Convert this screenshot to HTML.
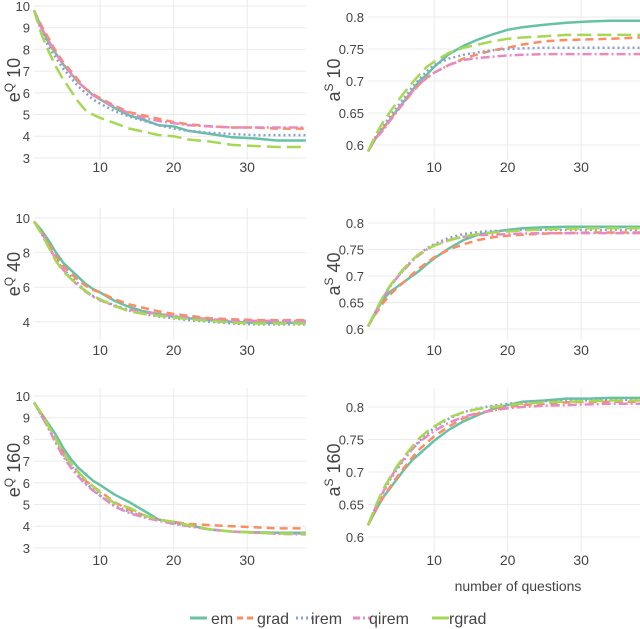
<!DOCTYPE html>
<html><head><meta charset="utf-8">
<style>
body{margin:0;background:#fff;}
svg{display:block;font-family:"Liberation Sans","DejaVu Sans",sans-serif;}
</style></head>
<body>
<svg id="chart" width="640" height="629" viewBox="0 0 640 629" xmlns="http://www.w3.org/2000/svg"></svg>
<script>
const xs = [1,2,3,4,5,6,7,8,9,10,12,14,16,18,20,22,25,28,31,34,38];
const seriesNames = ["em","grad","irem","qirem","rgrad"];
const e10_em=[9.8,9,8.3,7.8,7.3,6.9,6.5,6.2,5.9,5.7,5.3,4.95,4.75,4.5,4.45,4.25,4.1,3.95,3.9,3.8,3.8];
const e10_grad=[9.8,9.1,8.5,7.9,7.4,7.0,6.6,6.2,5.95,5.75,5.4,5.1,4.95,4.8,4.65,4.55,4.45,4.4,4.4,4.35,4.35];
const e10_irem=[9.8,8.8,8.1,7.6,7.1,6.7,6.3,6.0,5.7,5.5,5.15,4.9,4.7,4.5,4.35,4.25,4.15,4.1,4.05,4.05,4.05];
const e10_qirem=[9.8,9.0,8.4,7.8,7.3,6.9,6.5,6.2,5.9,5.7,5.35,5.05,4.85,4.7,4.6,4.5,4.45,4.4,4.4,4.4,4.4];
const e10_rgrad=[9.8,8.7,7.9,7.2,6.6,6.1,5.6,5.2,5.0,4.85,4.6,4.35,4.2,4.05,4.0,3.85,3.75,3.6,3.55,3.5,3.5];
const a10_em=[0.59,0.61,0.625,0.64,0.655,0.67,0.685,0.7,0.71,0.722,0.742,0.755,0.765,0.773,0.78,0.784,0.788,0.791,0.793,0.794,0.794];
const a10_grad=[0.59,0.61,0.625,0.64,0.655,0.668,0.682,0.695,0.705,0.713,0.725,0.735,0.742,0.748,0.752,0.757,0.762,0.764,0.765,0.766,0.768];
const a10_irem=[0.59,0.612,0.628,0.645,0.66,0.675,0.69,0.703,0.715,0.725,0.735,0.741,0.745,0.748,0.75,0.751,0.752,0.752,0.752,0.752,0.752];
const a10_qirem=[0.59,0.61,0.622,0.638,0.653,0.668,0.683,0.695,0.705,0.713,0.725,0.733,0.736,0.738,0.74,0.741,0.742,0.742,0.742,0.742,0.742];
const a10_rgrad=[0.59,0.615,0.635,0.652,0.668,0.683,0.697,0.71,0.722,0.73,0.744,0.752,0.757,0.762,0.766,0.768,0.77,0.772,0.772,0.772,0.772];
const e40_em=[9.8,9.3,8.7,8.0,7.4,7.0,6.6,6.2,5.9,5.7,5.2,4.85,4.6,4.45,4.3,4.2,4.1,4.0,3.95,3.95,3.95];
const e40_grad=[9.8,9.2,8.5,7.8,7.2,6.8,6.4,6.1,5.85,5.7,5.3,5.0,4.8,4.6,4.45,4.35,4.2,4.15,4.1,4.1,4.1];
const e40_irem=[9.8,9.1,8.3,7.6,7.0,6.6,6.2,5.8,5.5,5.3,4.95,4.65,4.45,4.3,4.2,4.1,4.0,3.9,3.85,3.85,3.85];
const e40_qirem=[9.8,9.2,8.4,7.6,7.0,6.5,6.1,5.75,5.45,5.25,4.9,4.7,4.55,4.45,4.35,4.25,4.15,4.05,4.05,4.05,4.05];
const e40_rgrad=[9.8,9.1,8.3,7.5,6.9,6.5,6.1,5.8,5.5,5.3,4.9,4.6,4.45,4.35,4.25,4.15,4.05,3.95,3.9,3.9,3.9];
const a40_em=[0.605,0.63,0.655,0.67,0.68,0.69,0.7,0.71,0.722,0.733,0.752,0.768,0.778,0.783,0.787,0.79,0.792,0.793,0.793,0.793,0.793];
const a40_grad=[0.605,0.628,0.648,0.665,0.678,0.69,0.703,0.715,0.725,0.735,0.75,0.76,0.768,0.773,0.776,0.778,0.78,0.781,0.782,0.782,0.782];
const a40_irem=[0.605,0.632,0.658,0.68,0.698,0.715,0.73,0.742,0.752,0.76,0.772,0.779,0.783,0.785,0.786,0.787,0.787,0.787,0.787,0.787,0.787];
const a40_qirem=[0.605,0.632,0.658,0.68,0.698,0.713,0.728,0.74,0.75,0.758,0.768,0.774,0.777,0.778,0.779,0.78,0.781,0.781,0.781,0.781,0.781];
const a40_rgrad=[0.605,0.633,0.66,0.682,0.7,0.716,0.73,0.742,0.75,0.757,0.767,0.775,0.779,0.782,0.784,0.786,0.788,0.789,0.79,0.79,0.79];
const e160_em=[9.7,9.2,8.7,8.2,7.6,7.1,6.7,6.4,6.1,5.9,5.45,5.1,4.7,4.3,4.2,4.05,3.85,3.75,3.72,3.7,3.7];
const e160_grad=[9.7,9.2,8.6,8.0,7.4,6.9,6.5,6.1,5.85,5.6,5.1,4.75,4.5,4.3,4.2,4.1,4.05,4.0,3.95,3.9,3.9];
const e160_irem=[9.7,9.1,8.5,7.9,7.3,6.8,6.4,6.0,5.7,5.4,4.95,4.65,4.45,4.3,4.15,4.0,3.85,3.75,3.7,3.68,3.65];
const e160_qirem=[9.7,9.1,8.5,7.8,7.2,6.7,6.3,5.95,5.65,5.4,4.9,4.6,4.4,4.25,4.1,4.0,3.85,3.75,3.7,3.65,3.62];
const e160_rgrad=[9.7,9.2,8.6,8.0,7.4,6.9,6.5,6.15,5.85,5.55,5.05,4.85,4.5,4.3,4.2,4.05,3.85,3.75,3.7,3.67,3.65];
const a160_em=[0.618,0.64,0.66,0.675,0.69,0.705,0.718,0.728,0.738,0.748,0.765,0.778,0.788,0.797,0.803,0.808,0.81,0.813,0.813,0.814,0.814];
const a160_grad=[0.618,0.64,0.66,0.677,0.693,0.708,0.722,0.735,0.745,0.755,0.77,0.783,0.79,0.795,0.8,0.803,0.805,0.807,0.808,0.808,0.808];
const a160_irem=[0.618,0.645,0.667,0.688,0.705,0.72,0.735,0.748,0.758,0.768,0.782,0.792,0.798,0.802,0.805,0.807,0.809,0.81,0.81,0.811,0.811];
const a160_qirem=[0.618,0.645,0.668,0.69,0.708,0.722,0.735,0.746,0.755,0.763,0.776,0.785,0.791,0.795,0.798,0.8,0.802,0.803,0.804,0.805,0.805];
const a160_rgrad=[0.618,0.647,0.672,0.692,0.71,0.725,0.739,0.752,0.762,0.77,0.784,0.792,0.797,0.8,0.803,0.805,0.807,0.808,0.809,0.81,0.81];
const xTicks=[10,20,30];
const eTicksFull=[3,4,5,6,7,8,9,10];
const eTicks40=[4,6,8,10];
const aTicks=[0.6,0.65,0.7,0.75,0.8];
const aTickLabels=["0.6","0.65","0.7","0.75","0.8"];

const NS="http://www.w3.org/2000/svg";
const svg=document.getElementById('chart');
const colors={em:"#66c2a5",grad:"#fc8d62",irem:"#8da0cb",qirem:"#e78ac3",rgrad:"#a6d854"};
const dashes={em:"",grad:"8,5",irem:"2,3",qirem:"9,3,2,3",rgrad:"14,6"};
function mk(tag,attrs,parent){const e=document.createElementNS(NS,tag);for(const k in attrs)e.setAttribute(k,attrs[k]);(parent||svg).appendChild(e);return e;}

const panels=[
 {name:"e10",x0:34,top:0,bot:160,yAt:10,yPx:6,scale:21.7,ticks:eTicksFull,labels:null,title:"e",sup:"Q",num:"10",tx:14,data:[e10_em,e10_grad,e10_irem,e10_qirem,e10_rgrad],xlabY:172},
 {name:"a10",x0:368,top:0,bot:160,yAt:0.8,yPx:17,scale:640,ticks:aTicks,labels:aTickLabels,title:"a",sup:"S",num:"10",tx:334,data:[a10_em,a10_grad,a10_irem,a10_qirem,a10_rgrad],xlabY:172},
 {name:"e40",x0:34,top:208,bot:340,yAt:10,yPx:218,scale:17.3,ticks:eTicks40,labels:null,title:"e",sup:"Q",num:"40",tx:14,data:[e40_em,e40_grad,e40_irem,e40_qirem,e40_rgrad],xlabY:355},
 {name:"a40",x0:368,top:208,bot:340,yAt:0.8,yPx:223,scale:530,ticks:aTicks,labels:aTickLabels,title:"a",sup:"S",num:"40",tx:334,data:[a40_em,a40_grad,a40_irem,a40_qirem,a40_rgrad],xlabY:355},
 {name:"e160",x0:34,top:388,bot:552,yAt:10,yPx:396,scale:21.7,ticks:eTicksFull,labels:null,title:"e",sup:"Q",num:"160",tx:14,data:[e160_em,e160_grad,e160_irem,e160_qirem,e160_rgrad],xlabY:565},
 {name:"a160",x0:368,top:388,bot:552,yAt:0.8,yPx:407,scale:650,ticks:aTicks,labels:aTickLabels,title:"a",sup:"S",num:"160",tx:334,data:[a160_em,a160_grad,a160_irem,a160_qirem,a160_rgrad],xlabY:565}
];
const PX=7.35;
panels.forEach(p=>{
 const g=mk('g',{});
 
 
 const xS=v=>p.x0+(v-1)*PX;
 const yS=v=>p.yPx+(p.yAt-v)*p.scale;
 const xEnd=xS(38);
 p.ticks.forEach((t,i)=>{
  const y=yS(t);
  const l=mk('line',{x1:p.x0,x2:xEnd,y1:y,y2:y,stroke:"#ebebeb","stroke-width":1},g);
  
  
  const tx=mk('text',{x:p.x0-4,y:y+5,"text-anchor":"end","font-size":13,fill:"#444"},g);
  
  
  tx.textContent=p.labels?p.labels[i]:String(t);
 });
 xTicks.forEach(t=>{
  const x=xS(t);
  const l=mk('line',{x1:x,x2:x,y1:p.top,y2:p.bot,stroke:"#ebebeb","stroke-width":1},g);
  
  
  const tx=mk('text',{x:x,y:p.xlabY,"text-anchor":"middle","font-size":14,fill:"#444"},g);
  
  
  tx.textContent=String(t);
 });
 const cy=(p.top+p.bot)/2;
 const tt=mk('text',{x:p.tx,y:cy,"text-anchor":"middle","font-size":18,fill:"#444",transform:`rotate(-90 ${p.tx} ${cy})`,dy:6},g);
 
 
 const t1=document.createElementNS(NS,'tspan');t1.textContent=p.title;tt.appendChild(t1);
 const t2=document.createElementNS(NS,'tspan');t2.setAttribute('dy','-7');t2.setAttribute('font-size','12');t2.textContent=p.sup;tt.appendChild(t2);
 const t3=document.createElementNS(NS,'tspan');t3.setAttribute('dy','7');t3.textContent=" "+p.num;tt.appendChild(t3);
 p.data.forEach((arr,si)=>{
  const nm=seriesNames[si];
  const d=arr.map((v,i)=>(i?"L":"M")+xS(xs[i]).toFixed(1)+","+yS(v).toFixed(1)).join(" ");
  const path=mk('path',{d:d,fill:"none",stroke:colors[nm],"stroke-width":2.5,"stroke-dasharray":dashes[nm],"stroke-linejoin":"round"},g);
  
  
 });
});
const xt=mk('text',{x:518,y:591,"text-anchor":"middle","font-size":14,fill:"#444"});


xt.textContent="number of questions";
const legPos=[[190,211],[237,257],[296,311],[353,369],[432,449]];
const lg=mk('g',{});


seriesNames.forEach((nm,i)=>{
 const [lx,tx]=legPos[i];
 const attrs={x1:lx,x2:lx+17,y1:618,y2:618,stroke:colors[nm],"stroke-width":3};
 if(nm==="grad") attrs["stroke-dasharray"]="6,4";
 if(nm==="irem") attrs["stroke-dasharray"]="2,3";
 if(nm==="qirem") attrs["stroke-dasharray"]="7,3,2,3";
 const l=mk('line',attrs,lg);
 
 
 const t=mk('text',{x:tx,y:624,"font-size":16,fill:"#444"},lg);
 
 
 t.textContent=nm;
});
</script>
</body></html>
